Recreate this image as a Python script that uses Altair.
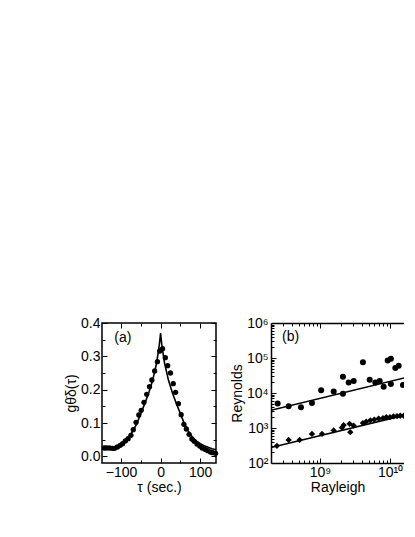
import altair as alt
import pandas as pd

FONT = "Liberation Sans"

# ---------------- Panel (a) data ----------------
tau_pts = [-142, -136, -129, -122, -116, -109, -102, -96, -89, -82, -75, -69, -62, -55,
           -49, -42, -35, -28, -22, -15, -8, -2,
           5, 12, 18, 25, 32, 38, 45, 52, 59, 65, 72, 79, 85, 92, 99, 105, 112, 119,
           126, 132, 139]
g_pts = [0.025, 0.025, 0.025, 0.024, 0.024, 0.028, 0.033, 0.038, 0.046, 0.053, 0.063,
         0.080, 0.102, 0.124, 0.138, 0.162, 0.186, 0.209, 0.229, 0.256, 0.284, 0.316,
         0.323, 0.296, 0.272, 0.250, 0.218, 0.192, 0.158, 0.125, 0.096, 0.082, 0.066,
         0.052, 0.045, 0.037, 0.031, 0.025, 0.021, 0.017, 0.013, 0.011, 0.009]

tau_fit = [-148, -135, -120, -110, -100, -90, -80, -70, -60, -50, -40, -30, -20, -10, -3,
           0, 3, 10, 20, 30, 40, 50, 60, 70, 80, 90, 100, 110, 120, 130, 140]
g_fit = [0.022, 0.024, 0.027, 0.031, 0.037, 0.045, 0.058, 0.076, 0.098, 0.128, 0.158,
         0.190, 0.228, 0.280, 0.336, 0.370, 0.336, 0.280, 0.228, 0.190, 0.158, 0.128,
         0.098, 0.076, 0.058, 0.046, 0.038, 0.032, 0.027, 0.023, 0.020]

a_x_major = [-100, 0, 100]
a_x_minor = [-50, 50]
a_y_major = [0.0, 0.1, 0.2, 0.3, 0.4]
a_y_minor = [0.05, 0.15, 0.25, 0.35]

# ---------------- Panel (b) data ----------------
ra_circ = [2.49e8, 3.57e8, 5.36e8, 7.69e8, 1.04e9, 1.57e9, 2.13e9, 2.13e9, 2.57e9,
           3.03e9, 4.11e9, 5.13e9, 6.17e9, 7.13e9, 8.13e9, 9.27e9, 1.03e10, 1.03e10,
           1.19e10, 1.33e10, 1.53e10, 2.06e10]
re_circ = [5.0e3, 4.2e3, 3.9e3, 5.2e3, 1.2e4, 1.1e4, 2.9e4, 9.5e3, 2.0e4, 2.2e4, 7.6e4,
           2.4e4, 2.0e4, 2.2e4, 1.5e4, 8.5e4, 9.5e4, 1.8e4, 5.2e4, 6.0e4, 1.7e4, 6.5e4]

ra_diam = [2.43e8, 3.57e8, 5.13e8, 7.69e8, 1.07e9, 1.57e9, 2.06e9, 2.18e9, 2.71e9,
           2.65e9, 3.02e9, 4.11e9, 4.57e9, 5.24e9, 5.97e9, 6.89e9, 7.94e9, 8.85e9,
           1.0e10, 1.12e10, 1.26e10, 1.40e10, 1.57e10, 1.78e10, 2.04e10]
re_diam = [309, 457, 457, 676, 676, 851, 1023, 1202, 759, 1318, 1175, 1380, 1514, 1660,
           1738, 1862, 1905, 2042, 2042, 2138, 2188, 2239, 2239, 2399, 2570]

ra_fit = [2e8, 2e10]
re_fit_circ = [3236, 29900]
re_fit_diam = [279, 2570]

b_x_major = [1e9, 1e10]
b_x_minor = [3e8, 4e8, 5e8, 6e8, 7e8, 8e8, 9e8,
             2e9, 3e9, 4e9, 5e9, 6e9, 7e9, 8e9, 9e9]
b_y_major = [1e2, 1e3, 1e4, 1e5, 1e6]
b_y_minor = [m * 10 ** e for e in (2, 3, 4, 5) for m in range(2, 10)]

MAJ, MIN = 5, 3

sup = "['⁰','¹','²','³','⁴','⁵','⁶','⁷','⁸','⁹','¹⁰','¹¹']"
log_label = "'10' + " + sup + "[round(log(datum.value)/LN10)]"


def axis(orient, values, size, labels=False, title=None, label_expr=None, pad=3,
         title_pad=2):
    kw = dict(orient=orient, values=values, tickSize=size, offset=-size, domain=False,
              labels=labels, title=title, grid=False, ticks=True, tickColor="black",
              tickWidth=1, labelPadding=pad, labelFlush=False, labelOverlap=False,
              titlePadding=title_pad)
    if label_expr:
        kw["labelExpr"] = label_expr
    return alt.Axis(**kw)


def frame_axis(orient):
    return alt.Axis(orient=orient, domain=True, domainColor="black", domainWidth=1.5,
                    ticks=False, labels=False, grid=False, title=None)


# ---------------- Panel (a) ----------------
df_pts = pd.DataFrame({"tau": tau_pts, "g": g_pts})
df_fit = pd.DataFrame({"tau": tau_fit, "g": g_fit})
df_lab_a = pd.DataFrame({"tau": [-117], "g": [0.355], "t": ["(a)"]})

xs_a = alt.Scale(domain=[-148, 140], nice=False, zero=False)
ys_a = alt.Scale(domain=[-0.02, 0.4], nice=False, zero=False)

a_pts = alt.Chart(df_pts).mark_circle(size=28, color="black", opacity=1).encode(
    x=alt.X("tau:Q", scale=xs_a,
            axis=axis("bottom", a_x_major, MAJ, labels=True, title="τ (sec.)", pad=2,
                      title_pad=1)),
    y=alt.Y("g:Q", scale=ys_a,
            axis=axis("left", a_y_major, MAJ, labels=True, title="gθ̇δ(τ)", pad=2,
                      title_pad=2)),
)
a_fit = alt.Chart(df_fit).mark_line(color="black", strokeWidth=1.6).encode(
    x=alt.X("tau:Q", scale=xs_a, axis=axis("top", a_x_major, MAJ)),
    y=alt.Y("g:Q", scale=ys_a, axis=axis("right", a_y_major, MAJ)),
)
a_min1 = alt.Chart(df_fit).mark_line(opacity=0).encode(
    x=alt.X("tau:Q", scale=xs_a, axis=axis("bottom", a_x_minor, MIN)),
    y=alt.Y("g:Q", scale=ys_a, axis=axis("left", a_y_minor, MIN)),
)
a_min2 = alt.Chart(df_fit).mark_line(opacity=0).encode(
    x=alt.X("tau:Q", scale=xs_a, axis=axis("top", a_x_minor, MIN)),
    y=alt.Y("g:Q", scale=ys_a, axis=axis("right", a_y_minor, MIN)),
)
a_txt = alt.Chart(df_lab_a).mark_text(align="left", baseline="middle", fontSize=14,
                                      font=FONT, color="black").encode(
    x=alt.X("tau:Q", scale=xs_a, axis=None),
    y=alt.Y("g:Q", scale=ys_a, axis=None),
    text="t:N",
)
panel_a = alt.layer(a_pts, a_fit, a_min1, a_min2, a_txt).resolve_axis(
    x="independent", y="independent").properties(
    width=114, height=140, view=alt.ViewBackground(stroke="black", strokeWidth=1.5))

# ---------------- Panel (b) ----------------
df_circ = pd.DataFrame({"ra": ra_circ, "re": re_circ})
df_diam = pd.DataFrame({"ra": ra_diam, "re": re_diam})
df_fc = pd.DataFrame({"ra": ra_fit, "re": re_fit_circ})
df_fd = pd.DataFrame({"ra": ra_fit, "re": re_fit_diam})
df_lab_b = pd.DataFrame({"ra": [2.87e8], "re": [4.07e5], "t": ["(b)"]})

xs_b = alt.Scale(type="log", domain=[2e8, 1.585e10], nice=False)
ys_b = alt.Scale(type="log", domain=[1e2, 1e6], nice=False)

b_circ = alt.Chart(df_circ).mark_circle(size=36, color="black", opacity=1,
                                        clip=True).encode(
    x=alt.X("ra:Q", scale=xs_b,
            axis=axis("bottom", b_x_major, MAJ, labels=True, title="Rayleigh",
                      label_expr=log_label, pad=2, title_pad=1)),
    y=alt.Y("re:Q", scale=ys_b,
            axis=axis("left", b_y_major, MAJ, labels=True, title="Reynolds",
                      label_expr=log_label, pad=3, title_pad=2)),
)
b_diam = alt.Chart(df_diam).mark_point(shape="diamond", filled=True, size=40,
                                       color="black", opacity=1, clip=True).encode(
    x=alt.X("ra:Q", scale=xs_b, axis=axis("top", b_x_major, MAJ)),
    y=alt.Y("re:Q", scale=ys_b, axis=None),
)
b_fc = alt.Chart(df_fc).mark_line(color="black", strokeWidth=1.5, clip=True).encode(
    x=alt.X("ra:Q", scale=xs_b, axis=axis("bottom", b_x_minor, MIN)),
    y=alt.Y("re:Q", scale=ys_b, axis=axis("left", b_y_minor, MIN)),
)
b_fd = alt.Chart(df_fd).mark_line(color="black", strokeWidth=1.5, clip=True).encode(
    x=alt.X("ra:Q", scale=xs_b, axis=axis("top", b_x_minor, MIN)),
    y=alt.Y("re:Q", scale=ys_b, axis=None),
)
b_dom1 = alt.Chart(df_fd).mark_line(opacity=0, clip=True).encode(
    x=alt.X("ra:Q", scale=xs_b, axis=frame_axis("bottom")),
    y=alt.Y("re:Q", scale=ys_b, axis=frame_axis("left")),
)
b_dom2 = alt.Chart(df_fd).mark_line(opacity=0, clip=True).encode(
    x=alt.X("ra:Q", scale=xs_b, axis=frame_axis("top")),
    y=alt.Y("re:Q", scale=ys_b, axis=None),
)
b_txt = alt.Chart(df_lab_b).mark_text(align="left", baseline="middle", fontSize=14,
                                      font=FONT, color="black").encode(
    x=alt.X("ra:Q", scale=xs_b, axis=None),
    y=alt.Y("re:Q", scale=ys_b, axis=None),
    text="t:N",
)
panel_b = alt.layer(b_circ, b_diam, b_fc, b_fd, b_dom1, b_dom2, b_txt).resolve_axis(
    x="independent", y="independent").properties(
    width=133, height=140, view=alt.ViewBackground(strokeWidth=0))

chart = alt.hconcat(panel_a, panel_b, spacing=55, bounds="flush").properties(
    padding={"left": 55, "top": 307, "right": 0, "bottom": 10},
    background="white",
).configure_axis(
    labelFont=FONT, labelFontSize=14, labelColor="black",
    titleFont=FONT, titleFontSize=14, titleFontWeight="normal", titleColor="black",
)

chart.save("out.html", embed_options={"renderer": "svg", "actions": False})
